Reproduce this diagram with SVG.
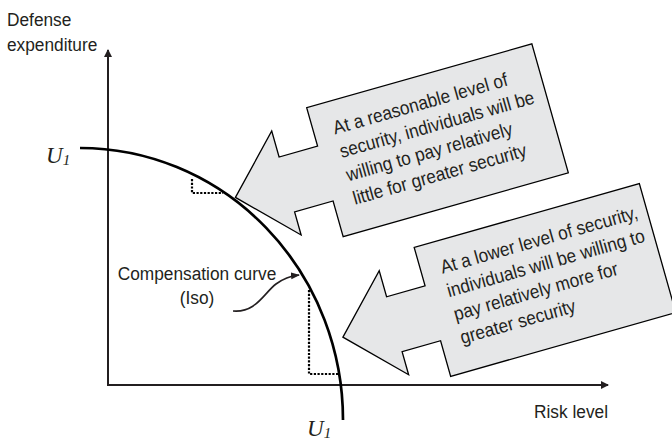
<svg xmlns="http://www.w3.org/2000/svg" width="672" height="441" viewBox="0 0 672 441">
  <style>
    .lbl { font-family: "Liberation Sans", Arial, sans-serif; font-size: 19px; fill: #231f20; }
    .u { font-family: "Liberation Serif", "Times New Roman", serif; font-style: italic; fill: #231f20; }
    .axis { stroke: #231f20; stroke-width: 2; fill: none; }
    .curve { stroke: #000; stroke-width: 2.7; fill: none; }
    .dot { stroke: #000; stroke-width: 2.2; fill: none; stroke-dasharray: 2.2 1.5; }
    .callout { fill: #e6e7e8; stroke: #000; stroke-width: 1.3; stroke-linejoin: miter; }
  </style>
  <defs>
    <marker id="ah" markerWidth="8" markerHeight="8" refX="7" refY="4" orient="auto" markerUnits="userSpaceOnUse">
      <path d="M0,0 L8,4 L0,8 Z" fill="#231f20"/>
    </marker>
    <marker id="ahs" markerWidth="9" markerHeight="8" refX="8" refY="4" orient="auto" markerUnits="userSpaceOnUse">
      <path d="M0,0.5 L9,4 L0,7.5 Z" fill="#231f20"/>
    </marker>
    <path id="calloutShape" d="M-210,0 L-157,-54 L-157,-27 L-117,-27 L-117,-67 L117,-67 L117,67 L-117,67 L-117,30 L-157,30 L-157,54 Z"/>
  </defs>

  <g id="axes">
    <line class="axis" x1="108" y1="385" x2="108" y2="50" marker-end="url(#ah)"/>
    <line class="axis" x1="107" y1="385" x2="608" y2="385" marker-end="url(#ah)"/>
    <text class="lbl" transform="translate(7,26) scale(0.91,1)">Defense</text>
    <text class="lbl" transform="translate(7,51) scale(0.91,1)">expenditure</text>
    <text class="lbl" transform="translate(608,418) scale(0.91,1)" text-anchor="end">Risk level</text>
  </g>

  <g id="callout-upper">
    <g transform="translate(437.5,140.25) rotate(-15.8)">
      <use href="#calloutShape" class="callout"/>
      <text class="lbl" transform="scale(0.91,1)" y="-33.5">
        <tspan x="-106.6" dy="0">At a reasonable level of</tspan>
        <tspan x="-106.6" dy="24.4">security, individuals will be</tspan>
        <tspan x="-106.6" dy="24.4">willing to pay relatively</tspan>
        <tspan x="-106.6" dy="24.4">little for greater security</tspan>
      </text>
    </g>
  </g>

  <g id="callout-lower">
    <g transform="translate(545,280) rotate(-15.8)">
      <use href="#calloutShape" class="callout"/>
      <text class="lbl" transform="scale(0.91,1)" y="-34">
        <tspan x="-106.6" dy="0">At a lower level of security,</tspan>
        <tspan x="-106.6" dy="24.4">individuals will be willing to</tspan>
        <tspan x="-106.6" dy="24.4">pay relatively more for</tspan>
        <tspan x="-106.6" dy="24.4">greater security</tspan>
      </text>
    </g>
  </g>

  <g id="curve">
    <path class="curve" d="M80,148 A263,272 0 0 1 343,420"/>
    <path class="dot" d="M192,179 L192,193 L223,193"/>
    <path class="dot" d="M309,290 L309,374 L338,374"/>
    <text class="u" x="46" y="163" font-size="23">U<tspan font-size="15" dy="2">1</tspan></text>
    <text class="u" x="307" y="436" font-size="23">U<tspan font-size="15" dy="2">1</tspan></text>
  </g>

  <g id="label-compensation">
    <text class="lbl" transform="translate(197,280) scale(0.91,1)" text-anchor="middle">Compensation curve</text>
    <text class="lbl" transform="translate(197,304) scale(0.91,1)" text-anchor="middle">(Iso)</text>
  </g>

  <g id="connectors">
    <path d="M233,311 C256,313 264,293 276,284 C284,278 290,276 299,275" fill="none" stroke="#231f20" stroke-width="1.6" marker-end="url(#ahs)"/>
  </g>
</svg>
